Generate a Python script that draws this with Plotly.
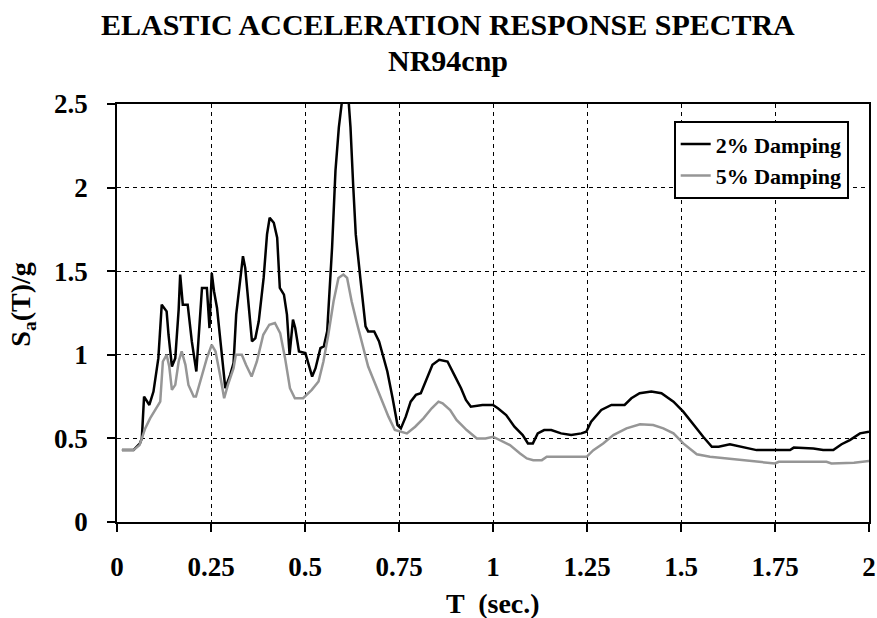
import plotly.graph_objects as go

# Period T (sec.) and spectral acceleration Sa/g, 2% damping
T_2pct = [0.013, 0.044, 0.061, 0.066, 0.072, 0.086, 0.097, 0.110, 0.119, 0.132, 0.137, 0.146,
          0.155, 0.164, 0.168, 0.175, 0.188, 0.199, 0.211, 0.217, 0.226, 0.239, 0.246, 0.252,
          0.258, 0.266, 0.275, 0.288, 0.301, 0.310, 0.317, 0.328, 0.335, 0.341, 0.347, 0.359,
          0.368, 0.377, 0.390, 0.399, 0.406, 0.417, 0.426, 0.433, 0.444, 0.452, 0.459, 0.468,
          0.474, 0.484, 0.501, 0.519, 0.528, 0.541, 0.550, 0.559, 0.572, 0.581, 0.590, 0.599,
          0.607, 0.615, 0.621, 0.628, 0.635, 0.648, 0.661, 0.668, 0.684, 0.697, 0.706, 0.719,
          0.733, 0.746, 0.755, 0.768, 0.781, 0.795, 0.808, 0.821, 0.839, 0.857, 0.879, 0.897,
          0.915, 0.928, 0.941, 0.972, 1.000, 1.013, 1.035, 1.057, 1.079, 1.093, 1.106, 1.119,
          1.136, 1.155, 1.181, 1.208, 1.235, 1.248, 1.261, 1.288, 1.315, 1.350, 1.368, 1.390,
          1.421, 1.448, 1.480, 1.506, 1.533, 1.559, 1.582, 1.600, 1.630, 1.666, 1.701, 1.790,
          1.800, 1.852, 1.878, 1.905, 1.927, 1.949, 1.976, 2.000]
Sa_2pct = [0.43, 0.43, 0.47, 0.50, 0.75, 0.70, 0.78, 0.98, 1.30, 1.26, 1.12, 0.93,
           0.98, 1.27, 1.48, 1.30, 1.30, 1.08, 0.90, 1.12, 1.40, 1.40, 1.16, 1.49,
           1.38, 1.28, 1.10, 0.80, 0.88, 0.95, 1.24, 1.48, 1.59, 1.52, 1.36, 1.08,
           1.10, 1.20, 1.46, 1.72, 1.82, 1.79, 1.70, 1.40, 1.36, 1.24, 1.00, 1.21,
           1.16, 1.02, 1.01, 0.87, 0.92, 1.04, 1.05, 1.14, 1.64, 2.10, 2.36, 2.55,
           2.68, 2.55, 2.36, 2.02, 1.72, 1.44, 1.17, 1.14, 1.14, 1.08, 1.00, 0.90,
           0.74, 0.58, 0.56, 0.63, 0.72, 0.76, 0.77, 0.84, 0.94, 0.97, 0.96, 0.88,
           0.80, 0.73, 0.69, 0.70, 0.70, 0.68, 0.64, 0.57, 0.52, 0.47, 0.47, 0.53,
           0.55, 0.55, 0.53, 0.52, 0.53, 0.54, 0.60, 0.67, 0.70, 0.70, 0.74, 0.77,
           0.78, 0.77, 0.72, 0.66, 0.58, 0.51, 0.45, 0.45, 0.465, 0.445, 0.43, 0.43,
           0.445, 0.44, 0.43, 0.43, 0.465, 0.49, 0.53, 0.54]

# 5% damping
T_5pct = [0.013, 0.044, 0.060, 0.075, 0.088, 0.101, 0.115, 0.122, 0.132, 0.139, 0.146, 0.155,
          0.164, 0.172, 0.182, 0.190, 0.204, 0.210, 0.221, 0.239, 0.252, 0.262, 0.274, 0.285,
          0.295, 0.310, 0.316, 0.332, 0.343, 0.358, 0.372, 0.389, 0.405, 0.420, 0.434, 0.447,
          0.460, 0.473, 0.495, 0.518, 0.536, 0.549, 0.562, 0.576, 0.589, 0.602, 0.612, 0.624,
          0.638, 0.651, 0.668, 0.686, 0.704, 0.722, 0.739, 0.755, 0.771, 0.793, 0.815, 0.837,
          0.855, 0.866, 0.886, 0.903, 0.930, 0.957, 0.980, 1.000, 1.019, 1.045, 1.072, 1.090,
          1.107, 1.130, 1.143, 1.190, 1.249, 1.267, 1.293, 1.320, 1.355, 1.391, 1.426, 1.453,
          1.480, 1.506, 1.542, 1.577, 1.621, 1.692, 1.750, 1.760, 1.887, 1.900, 1.960, 2.000]
Sa_5pct = [0.43, 0.43, 0.46, 0.56, 0.62, 0.67, 0.72, 0.96, 1.00, 0.93, 0.79, 0.82,
           0.96, 1.02, 0.94, 0.82, 0.75, 0.75, 0.84, 0.98, 1.06, 1.02, 0.88, 0.74,
           0.82, 0.92, 1.00, 1.00, 0.94, 0.87, 0.96, 1.12, 1.18, 1.19, 1.13, 0.98,
           0.80, 0.74, 0.74, 0.79, 0.84, 0.96, 1.12, 1.32, 1.46, 1.48, 1.46, 1.32,
           1.19, 1.08, 0.93, 0.83, 0.73, 0.63, 0.55, 0.54, 0.53, 0.57, 0.62, 0.68,
           0.72, 0.71, 0.67, 0.61, 0.55, 0.50, 0.50, 0.51, 0.49, 0.46, 0.41, 0.38,
           0.37, 0.37, 0.39, 0.39, 0.39, 0.43, 0.47, 0.52, 0.56, 0.585, 0.58, 0.56,
           0.53, 0.47, 0.405, 0.39, 0.38, 0.36, 0.35, 0.36, 0.36, 0.35, 0.355, 0.365]

x_tickvals = [0, 0.25, 0.5, 0.75, 1, 1.25, 1.5, 1.75, 2]
x_ticktext = ["0", "0.25", "0.5", "0.75", "1", "1.25", "1.5", "1.75", "2"]
y_tickvals = [0, 0.5, 1, 1.5, 2, 2.5]
y_ticktext = ["0", "0.5", "1", "1.5", "2", "2.5"]

SERIF = "Liberation Serif"

fig = go.Figure()
fig.add_trace(go.Scatter(x=T_2pct, y=Sa_2pct, mode="lines", name="2% Damping",
                         line=dict(color="#000000", width=2.5)))
fig.add_trace(go.Scatter(x=T_5pct, y=Sa_5pct, mode="lines", name="5% Damping",
                         line=dict(color="#969696", width=2.5)))

axis_common = dict(
    automargin=False,
    showline=True, linecolor="#000000", linewidth=1.5, mirror=True,
    showgrid=True, gridcolor="#000000", gridwidth=1, griddash="4px,4px",
    zeroline=False, ticks="outside", ticklen=8, tickwidth=1.5, tickcolor="#000000",
    ticklabeloverflow="allow",
    tickfont=dict(family=SERIF, size=27, color="#000000", weight=700),
)

fig.update_xaxes(range=[0, 2], tickvals=x_tickvals, ticktext=x_ticktext,
                 ticklabelstandoff=12, **axis_common)
fig.update_yaxes(range=[0, 2.5], tickvals=y_tickvals, ticktext=y_ticktext,
                 ticklabelstandoff=14, **axis_common)

fig.update_layout(
    width=877, height=618,
    margin=dict(l=117, r=8, t=104, b=96, autoexpand=False),
    paper_bgcolor="#ffffff", plot_bgcolor="#ffffff",
    showlegend=True,
    legend=dict(x=0.973, y=0.959, xanchor="right", yanchor="top",
                bgcolor="#ffffff", bordercolor="#000000", borderwidth=2,
                font=dict(family=SERIF, size=22, color="#000000", weight=700),
                tracegroupgap=0, itemwidth=30),
    annotations=[
        dict(text="ELASTIC ACCELERATION RESPONSE SPECTRA", xref="paper", yref="paper",
             x=0.44, y=1.189, xanchor="center", yanchor="middle", showarrow=False,
             font=dict(family=SERIF, size=30, color="#000000", weight=700)),
        dict(text="NR94cnp", xref="paper", yref="paper",
             x=0.44, y=1.105, xanchor="center", yanchor="middle", showarrow=False,
             font=dict(family=SERIF, size=30, color="#000000", weight=700)),
        dict(text="S<sub>a</sub>(T)/g", xref="paper", yref="paper",
             x=-0.125, y=0.52, xanchor="center", yanchor="middle", showarrow=False,
             textangle=-90,
             font=dict(family=SERIF, size=28, color="#000000", weight=700)),
        dict(text="T  (sec.)", xref="paper", yref="paper",
             x=0.5, y=-0.194, xanchor="center", yanchor="middle", showarrow=False,
             font=dict(family=SERIF, size=28, color="#000000", weight=700)),
    ],
)

fig.write_html("out.html", config={"displayModeBar": False},
               post_script="document.body.style.margin='0';")
